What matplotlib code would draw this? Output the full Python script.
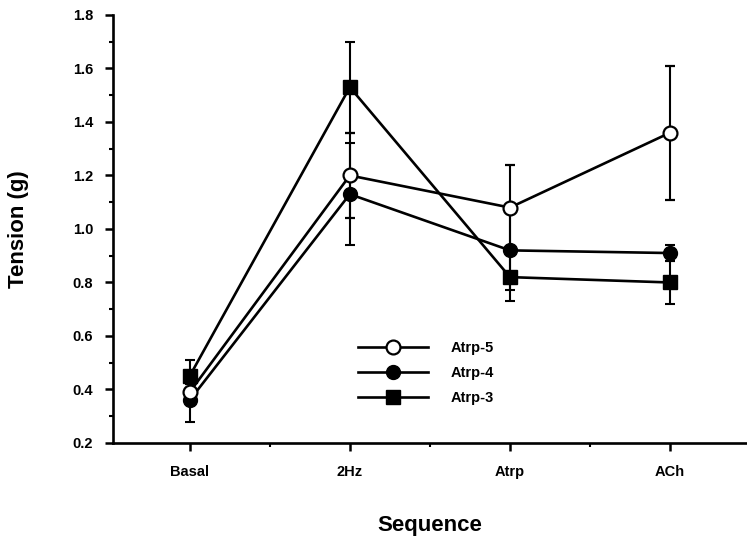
import numpy as np
import matplotlib
matplotlib.use("Agg")
import matplotlib.pyplot as plt
from matplotlib.ticker import MultipleLocator, FixedLocator, FormatStrFormatter

plt.rcParams['font.family'] = ['Liberation Sans', 'DejaVu Sans']
plt.rcParams['font.weight'] = 'bold'

# data
stages = ['Basal', '2Hz', 'Atrp', 'ACh']
atrp5 = [0.39, 1.20, 1.08, 1.36]
atrp5_err = [0.03, 0.16, 0.16, 0.25]
atrp4 = [0.36, 1.13, 0.92, 0.91]
atrp4_err = [0.08, 0.19, 0.15, 0.03]
atrp3 = [0.45, 1.53, 0.82, 0.80]
atrp3_err = [0.06, 0.17, 0.09, 0.08]

x = np.arange(1, len(stages) + 1)

fig = plt.figure(figsize=(7.47, 5.44), dpi=100)
ax = fig.add_axes([0.151, 0.1857, 0.849, 0.7868])

common = dict(color='black', lw=1.9, elinewidth=1.5, capsize=3.5, capthick=1.5)
ax.errorbar(x, atrp3, yerr=atrp3_err, marker='s', ms=9.5, mfc='black',
            mec='black', label='Atrp-3', zorder=3, **common)
ax.errorbar(x, atrp4, yerr=atrp4_err, marker='o', ms=10, mfc='black',
            mec='black', label='Atrp-4', zorder=4, **common)
ax.errorbar(x, atrp5, yerr=atrp5_err, marker='o', ms=10, mfc='white',
            mec='black', mew=1.6, label='Atrp-5', zorder=5, **common)

ax.set_xlim(0.52, 4.48)
ax.set_ylim(0.2, 1.8)
ax.set_xticks(x)
ax.set_xticklabels(stages)
ax.xaxis.set_minor_locator(FixedLocator([1.5, 2.5, 3.5]))
ax.yaxis.set_major_locator(MultipleLocator(0.2))
ax.yaxis.set_minor_locator(MultipleLocator(0.1))
ax.yaxis.set_major_formatter(FormatStrFormatter('%.1f'))

for s in ['top', 'right']:
    ax.spines[s].set_visible(False)
for s in ['left', 'bottom']:
    ax.spines[s].set_linewidth(1.9)

ax.tick_params(which='major', direction='out', length=6, width=1.8,
               labelsize=10.5)
ax.tick_params(which='minor', direction='out', length=3, width=1.5)
ax.tick_params(axis='x', pad=10)
ax.tick_params(axis='y', pad=8)

ax.set_ylabel('Tension (g)', fontsize=16, fontweight='bold')
ax.set_xlabel('Sequence', fontsize=16, fontweight='bold', labelpad=26)
ax.yaxis.set_label_coords(-0.132, 0.5)

h, l = ax.get_legend_handles_labels()
order = [2, 1, 0]
leg = ax.legend([h[i][0] for i in order], [l[i] for i in order],
                loc='upper left', bbox_to_anchor=(0.470, 0.386),
                bbox_transform=fig.transFigure, frameon=False,
                fontsize=10.5, handlelength=4.8, handletextpad=1.5,
                labelspacing=0.75, borderpad=0)

fig.savefig('out.png', dpi=100)
